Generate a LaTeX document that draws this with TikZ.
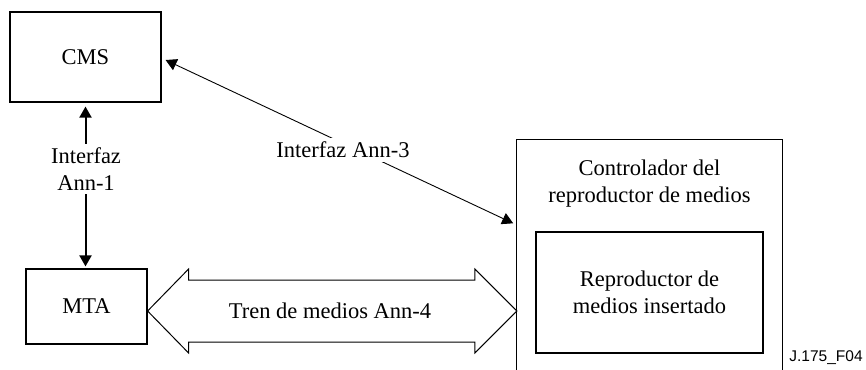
\documentclass[tikz,border=0pt]{standalone}
\usepackage{fontspec}
\setmainfont{Liberation Serif}
\newfontfamily\labelsans{Liberation Sans}
\usetikzlibrary{arrows.meta,calc}
\begin{document}
\begin{tikzpicture}[x=1pt,y=-1pt,
  box/.style={draw,line width=1.2pt,inner sep=0pt,align=center,font=\fontsize{22.5}{27}\selectfont},
  txt/.style={align=center,font=\fontsize{22.5}{27}\selectfont},
  lbl/.style={txt,fill=white,inner sep=4pt},
  tip/.style={-{Triangle[length=11pt,width=12pt]}},
  dtip/.style={{Triangle[length=11pt,width=12pt]}-{Triangle[length=11pt,width=12pt]}}]
\useasboundingbox (0,0) rectangle (866,369);
% nodes
\node[box,minimum width=151pt,minimum height=90pt] (cms) at (85.5,57) {CMS};
\node[box,minimum width=121pt,minimum height=75pt] (mta) at (86.5,306.5) {MTA};
\node[draw=none,inner sep=0pt,minimum width=265pt,minimum height=230pt] (ctrl) at (649.5,255) {};
\draw[line width=1.2pt] (ctrl.south west) -- (ctrl.north west) -- (ctrl.north east) -- (ctrl.south east);
\node[txt] (ctrltxt) at (649.5,184) {Controlador del\\reproductor de medios};
\node[box,minimum width=227pt,minimum height=121pt] (player) at (649.5,292.5) {Reproductor de\\medios insertado};
% Ann-1
\draw[dtip,line width=2pt,shorten <=4pt,shorten >=2pt] (cms.south) -- (cms.south |- mta.north);
\node[lbl] (a1) at (86,169) {Interfaz\\Ann-1};
% Ann-3
\coordinate (a3s) at ($(cms.east)+(4,3)$);
\coordinate (a3e) at (ctrl.west |- 0,225);
\draw[dtip,line width=0.9pt,shorten >=4pt] (a3s) -- (a3e);
\node[lbl] (a3) at (343,150) {Interfaz Ann-3};
% Ann-4 double arrow
\coordinate (l) at (mta.east |- 0,311);
\coordinate (r) at (ctrl.west |- 0,311);
\draw[line width=1pt,line join=miter] (l) -- ++(41,-42) -- ++(0,11) -- ($(r)+(-42,-31)$) -- ++(0,-11) -- (r)
  -- ++(-42,42) -- ++(0,-11) -- ($(l)+(41,31)$) -- ++(0,11) -- cycle;
\node[txt] (a4) at (330,311) {Tren de medios Ann-4};
% figure id
\node[font=\labelsans\fontsize{15.5}{18}\selectfont] (fid) at (826,358) {J.175\_F04};
\end{tikzpicture}
\end{document}
